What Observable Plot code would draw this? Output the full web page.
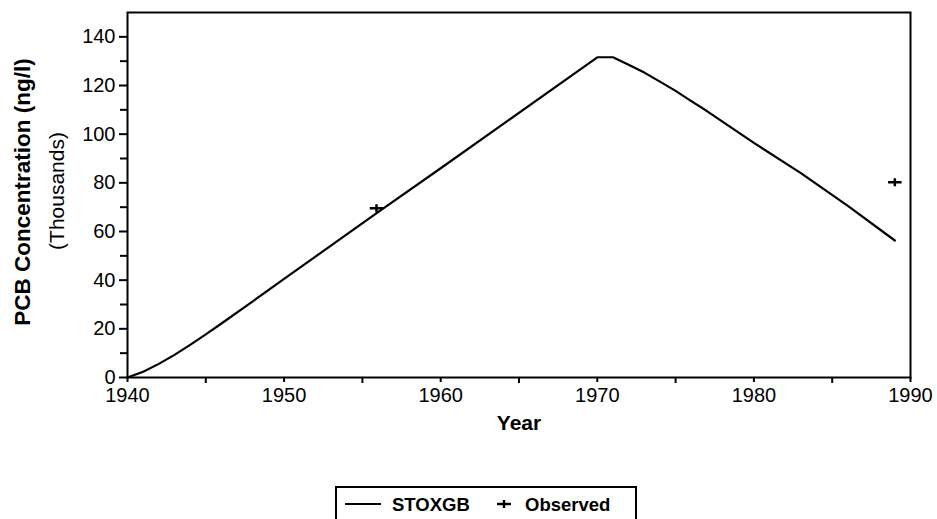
<!DOCTYPE html>
<html>
<head>
<meta charset="utf-8">
<script src="https://cdn.jsdelivr.net/npm/d3@7"></script>
<script src="https://cdn.jsdelivr.net/npm/@observablehq/plot@0.6"></script>
<style>
  html, body { margin: 0; padding: 0; background: #fff; }
  #wrap { position: relative; width: 937px; height: 519px; overflow: hidden; background: #fff;
          font-family: "Liberation Sans", Arial, Helvetica, sans-serif; color: #000; }
  #legend { position: absolute; left: 335px; top: 486px; width: 302px; height: 60px;
            border: 2px solid #000; box-sizing: border-box; }
  #legend span { position: absolute; font-weight: bold; font-size: 18.5px; line-height: 1; }
  #legend svg { position: absolute; left: 0; top: 0; }
</style>
</head>
<body>
<div id="wrap">
  <div id="chart"></div>
  <div id="legend">
    <svg width="298" height="40">
      <line x1="8" x2="44" y1="16" y2="16" stroke="#000" stroke-width="2"/>
      <path d="M160,16H174M167,12V20" stroke="#000" stroke-width="2.5" fill="none"/>
    </svg>
    <span style="left:55px; top:8px;">STOXGB</span>
    <span style="left:188px; top:8px;">Observed</span>
  </div>
</div>
<script>
// Model series (STOXGB)
const modelYears  = [1940, 1941, 1942, 1943, 1944, 1945, 1946, 1948, 1950, 1956, 1960, 1964, 1970, 1971, 1972, 1973, 1974, 1975, 1976, 1977, 1980, 1983, 1986, 1989];
const modelValues = [0, 2.4, 5.6, 9.3, 13.4, 17.7, 22.2, 31.3, 40.5, 68, 86, 104.2, 131.6, 131.6, 128.5, 125.3, 121.6, 117.8, 113.6, 109.5, 96.4, 84, 70.5, 56.3];

// Observed points
const obsYears  = [1955.9, 1989];
const obsValues = [69.6, 80.2];

// Axis ticks
const yMajorTicks = [0, 20, 40, 60, 80, 100, 120, 140];
const yMinorTicks = [10, 30, 50, 70, 90, 110, 130];
const xMajorTicks = [1940, 1950, 1960, 1970, 1980, 1990];
const xMinorTicks = [1945, 1955, 1965, 1975, 1985];

const model = modelYears.map((x, i) => ({x, y: modelValues[i]}));
const observed = obsYears.map((x, i) => ({x, y: obsValues[i]}));

// wide plus symbol
const widePlus = {
  draw(context, size) {
    const r = Math.sqrt(size / Math.PI);
    const w = r * 1.35, h = r * 0.8;
    context.moveTo(-w, 0); context.lineTo(w, 0);
    context.moveTo(0, -h); context.lineTo(0, h);
  }
};

const chart = Plot.plot({
  width: 937,
  height: 440,
  marginLeft: 127,
  marginRight: 27,
  marginTop: 12,
  marginBottom: 63,
  style: {fontFamily: '"Liberation Sans", Arial, Helvetica, sans-serif', fontSize: "20px", color: "#000", background: "#fff"},
  x: {domain: [1940, 1990]},
  y: {domain: [0, 150]},
  marks: [
    Plot.axisY({ticks: yMajorTicks, tickSize: 8, tickPadding: 4, strokeWidth: 2, label: null, fontSize: 20}),
    Plot.axisY({ticks: yMinorTicks, tickSize: 7, strokeWidth: 2, text: null, label: null}),
    Plot.axisX({ticks: xMajorTicks, tickSize: 5, tickPadding: 5, strokeWidth: 2, tickFormat: d => String(d), label: null, fontSize: 20}),
    Plot.axisX({ticks: xMinorTicks, tickSize: 6, strokeWidth: 2, text: null, label: null}),
    Plot.frame({stroke: "#000", strokeWidth: 2}),
    Plot.line(model, {x: "x", y: "y", stroke: "#000", strokeWidth: 2.2}),
    Plot.dot(observed, {x: "x", y: "y", symbol: widePlus, r: 5, stroke: "#000", fill: "none", strokeWidth: 2.5}),
    Plot.text(["PCB Concentration (ng/l)"], {text: d => d, frameAnchor: "left", dx: -105, dy: -3, rotate: -90,
      textAnchor: "middle", lineAnchor: "middle", fontWeight: "bold", fontSize: 22.5}),
    Plot.text(["(Thousands)"], {text: d => d, frameAnchor: "left", dx: -70, dy: -4, rotate: -90,
      textAnchor: "middle", lineAnchor: "middle", fontSize: 21}),
    Plot.text(["Year"], {text: d => d, frameAnchor: "bottom", dy: 46, textAnchor: "middle", lineAnchor: "middle",
      fontWeight: "bold", fontSize: 21})
  ]
});
document.getElementById("chart").appendChild(chart);
</script>
</body>
</html>
